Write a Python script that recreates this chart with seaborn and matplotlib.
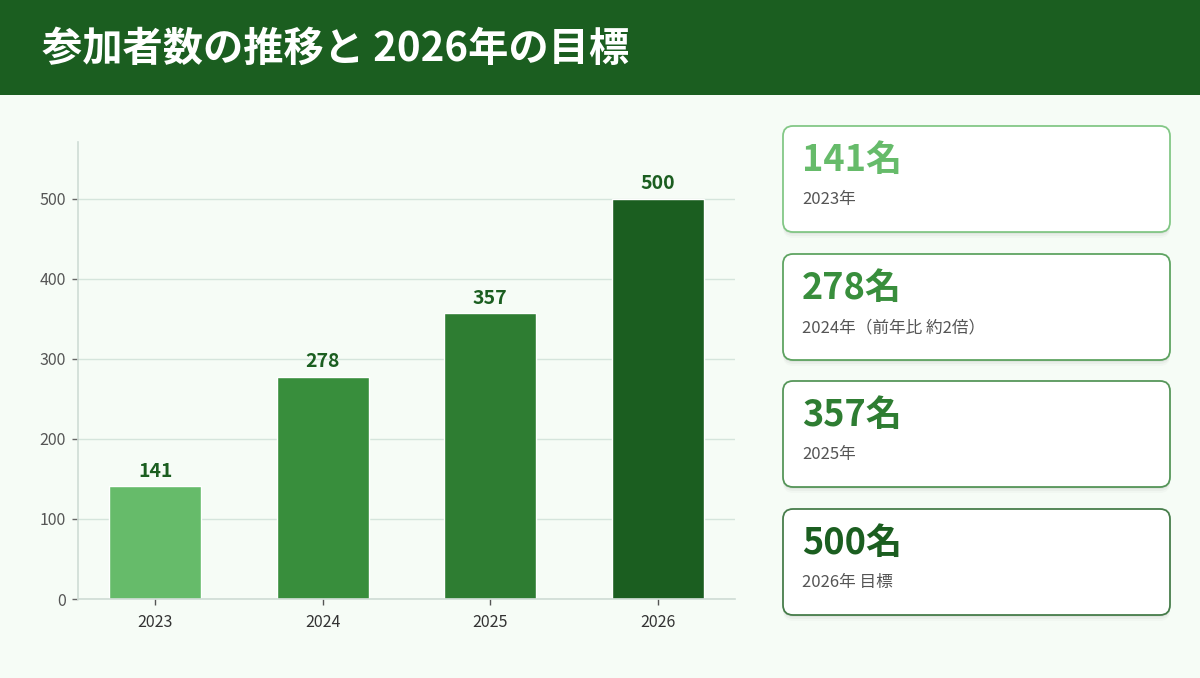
import matplotlib
matplotlib.use("Agg")
import matplotlib.pyplot as plt
from matplotlib.patches import FancyBboxPatch, Rectangle
import seaborn as sns
import pandas as pd

# データ
years = ["2023", "2024", "2025", "2026"]
participants = [141, 278, 357, 500]
bar_colors = ["#66bb6a", "#388e3c", "#2e7d32", "#1b5e20"]
card_values = ["141名", "278名", "357名", "500名"]
card_notes = ["2023年", "2024年（前年比 約2倍）", "2025年", "2026年 目標"]
title = "参加者数の推移と 2026年の目標"

sns.set_theme(style="white")
plt.rcParams["font.family"] = ["Noto Sans CJK JP", "DejaVu Sans"]

bg_color = "#f6fcf6"
header_color = "#1b5e20"

fig = plt.figure(figsize=(12, 6.78), dpi=100)
fig.patch.set_facecolor(bg_color)

# 背景用の軸（ピクセル座標）
bg = fig.add_axes([0, 0, 1, 1], zorder=0)
bg.set_xlim(0, 1200)
bg.set_ylim(678, 0)
bg.axis("off")
bg.add_patch(Rectangle((0, 0), 1200, 95, color=header_color, lw=0))
bg.text(42, 49, title, color="white", fontsize=29, fontweight="bold", va="center", ha="left")

# カード
card_tops = [126, 254, 381, 509]
for top, val, note, col in zip(card_tops, card_values, card_notes, bar_colors):
    for off, a in [(2, 0.04), (4, 0.03), (6, 0.02)]:
        bg.add_patch(FancyBboxPatch((783, top + off), 387, 106,
                                    boxstyle="round,pad=0,rounding_size=10",
                                    fc="#000000", ec="none", alpha=a))
    bg.add_patch(FancyBboxPatch((783, top), 387, 106,
                                boxstyle="round,pad=0,rounding_size=10",
                                fc="white", ec="none"))
    bg.add_patch(FancyBboxPatch((783, top), 387, 106,
                                boxstyle="round,pad=0,rounding_size=10",
                                fc="none", ec=col, lw=1.3, alpha=0.8))
    bg.text(802, top + 45, val, color=col, fontsize=26, fontweight="bold", va="baseline")
    bg.text(802, top + 78, note, color="#555555", fontsize=12, va="baseline")

# 棒グラフ
ax = fig.add_axes([78 / 1200, (678 - 599) / 678, 657 / 1200, 457 / 678], zorder=1)
ax.set_facecolor("none")
df = pd.DataFrame({"year": years, "count": participants})
sns.barplot(data=df, x="year", y="count", hue="year", palette=bar_colors,
            legend=False, width=0.55, saturation=1, ax=ax)
for cont in ax.containers:
    ax.bar_label(cont, padding=4, fontsize=14, fontweight="bold", color=header_color)

ax.set_ylim(0, 571)
ax.set_xlim(-0.46, 3.46)
ax.set_yticks([0, 100, 200, 300, 400, 500])
ax.yaxis.grid(True, color="#d5e5dc", lw=1)
ax.set_axisbelow(True)
ax.set_xlabel("")
ax.set_ylabel("")
for side in ["top", "right"]:
    ax.spines[side].set_visible(False)
for side in ["left", "bottom"]:
    ax.spines[side].set_color("#cfdcd5")
    ax.spines[side].set_linewidth(1.2)
ax.tick_params(axis="y", colors="#666666", labelsize=11.5, length=4, width=1, left=True,
               labelcolor="#555555", pad=5)
ax.tick_params(axis="x", colors="#555555", labelsize=11.5, length=4, width=1, bottom=True,
               labelcolor="#333333", pad=7)

fig.savefig("out.png", dpi=100, facecolor=bg_color)
